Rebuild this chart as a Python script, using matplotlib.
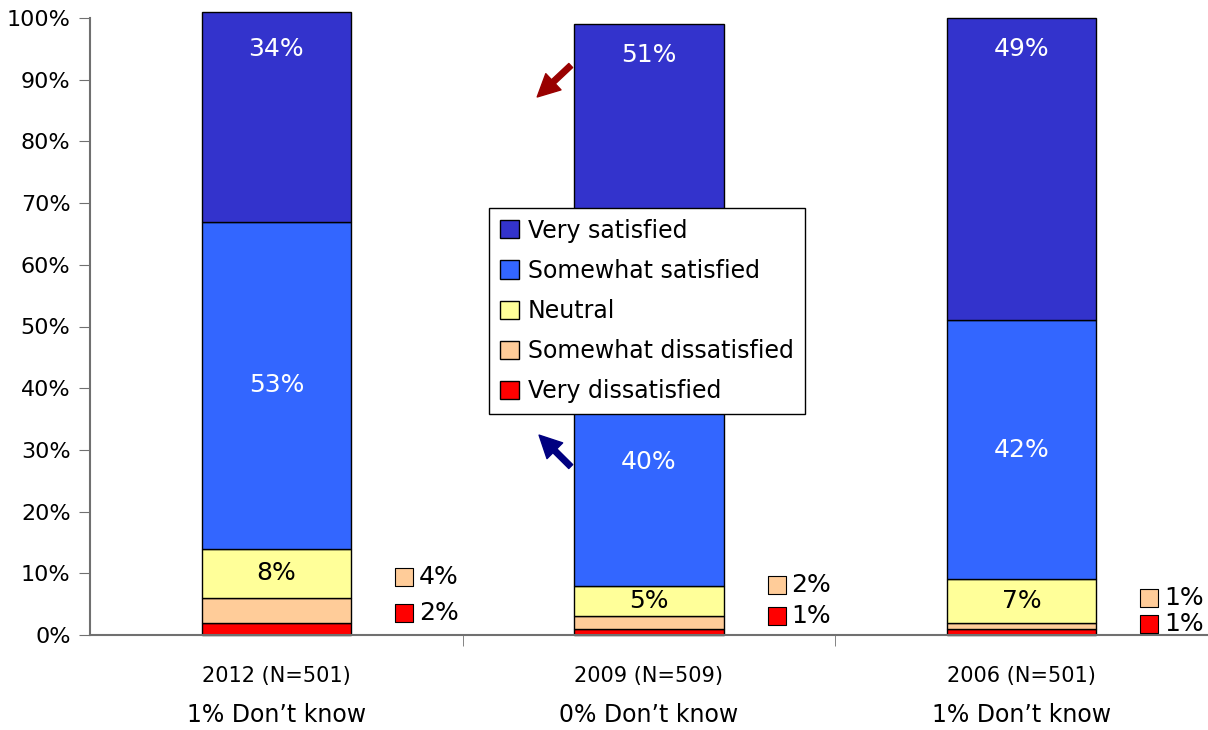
import matplotlib
matplotlib.use("Agg")
import matplotlib.pyplot as plt
import numpy as np

plt.rcParams['font.family'] = ['DejaVu Sans']

years = ["2012 (N=501)", "2009 (N=509)", "2006 (N=501)"]
dont_know = ["1% Don\u2019t know", "0% Don\u2019t know", "1% Don\u2019t know"]
series = ["Very dissatisfied", "Somewhat dissatisfied", "Neutral",
          "Somewhat satisfied", "Very satisfied"]
very_dissatisfied = [2, 1, 1]
somewhat_dissatisfied = [4, 2, 1]
neutral = [8, 5, 7]
somewhat_satisfied = [53, 40, 42]
very_satisfied = [34, 51, 49]

colors = ["#FF0000", "#FFCC99", "#FFFF99", "#3366FF", "#3333CC"]
values = [very_dissatisfied, somewhat_dissatisfied, neutral,
          somewhat_satisfied, very_satisfied]

fig = plt.figure(figsize=(12.08, 7.30), dpi=100)
ax = fig.add_axes([90/1208, 1-635/730, 1118/1208, 617/730])

x = np.arange(len(years))
w = 0.4
bottom = np.zeros(len(years))
handles = {}
for name, vals, c in zip(series, values, colors):
    vals = np.array(vals, dtype=float)
    b = ax.bar(x, vals, w, bottom=bottom, color=c, edgecolor="black",
               linewidth=1, label=name, clip_on=False)
    handles[name] = b
    bottom = bottom + vals

# labels inside bars
bot_ns = np.array(very_dissatisfied) + np.array(somewhat_dissatisfied)
for i in range(len(years)):
    nb = bot_ns[i]
    ax.text(x[i], nb + neutral[i]/2, f"{neutral[i]}%", ha="center", va="center",
            fontsize=18, color="black")
    sb = nb + neutral[i]
    ax.text(x[i], sb + somewhat_satisfied[i]/2, f"{somewhat_satisfied[i]}%",
            ha="center", va="center", fontsize=18, color="white")
    vb = sb + somewhat_satisfied[i]
    top = min(vb + very_satisfied[i], 100)
    ax.text(x[i], top - 5.0, f"{very_satisfied[i]}%",
            ha="center", va="center", fontsize=18, color="white")

# side labels for small categories
side_y_sd = [9.4, 8.1, 6.0]
side_y_vd = [3.6, 3.1, 1.8]
for i in range(len(years)):
    for val, yy, c in [(somewhat_dissatisfied[i], side_y_sd[i], colors[1]),
                       (very_dissatisfied[i], side_y_vd[i], colors[0])]:
        ax.scatter([x[i] + 0.343], [yy], marker="s", s=160, color=c,
                   edgecolor="black", linewidth=0.8, zorder=5, clip_on=False)
        ax.text(x[i] + 0.382, yy, f"{val}%", ha="left", va="center",
                fontsize=18, color="black")

# arrows
ax.annotate("", xy=(x[1] - 0.3, 87.2), xytext=(x[1] - 0.21, 92.3),
            arrowprops=dict(facecolor="#990000", edgecolor="#990000",
                            width=4, headwidth=16, headlength=16))
ax.annotate("", xy=(x[1] - 0.295, 32.4), xytext=(x[1] - 0.21, 27.3),
            arrowprops=dict(facecolor="#000080", edgecolor="#000080",
                            width=4, headwidth=16, headlength=16))

ax.set_xlim(-0.5, 2.5)
ax.set_ylim(0, 100)
ax.set_yticks(np.arange(0, 101, 10))
ax.set_yticklabels([f"{v}%" for v in range(0, 101, 10)], fontsize=16)
ax.set_xticks(x)
ax.set_xticklabels(years, fontsize=15)
ax.set_xticks([0.5, 1.5], minor=True)
ax.tick_params(axis="x", which="major", length=0, pad=22)
ax.tick_params(axis="x", which="minor", length=8, direction="out", color="#707070")
ax.tick_params(axis="y", length=8, direction="out", color="#707070", pad=6)
for s in ["top", "right"]:
    ax.spines[s].set_visible(False)
for s in ["left", "bottom"]:
    ax.spines[s].set_color("#707070")
    ax.spines[s].set_linewidth(1.5)

for i in range(len(years)):
    ax.text(x[i], -13.0, dont_know[i], ha="center", va="center", fontsize=17,
            transform=ax.transData)

order = ["Very satisfied", "Somewhat satisfied", "Neutral",
         "Somewhat dissatisfied", "Very dissatisfied"]
leg = ax.legend([handles[n] for n in order], order, loc="upper left",
                bbox_to_anchor=(0.357, 0.692), fontsize=17, frameon=True,
                fancybox=False, edgecolor="black", framealpha=1,
                borderaxespad=0, handlelength=0.8, handleheight=0.8,
                handletextpad=0.4, labelspacing=0.68, borderpad=0.45)
leg.get_frame().set_linewidth(1)

fig.savefig("out.png", dpi=100)
